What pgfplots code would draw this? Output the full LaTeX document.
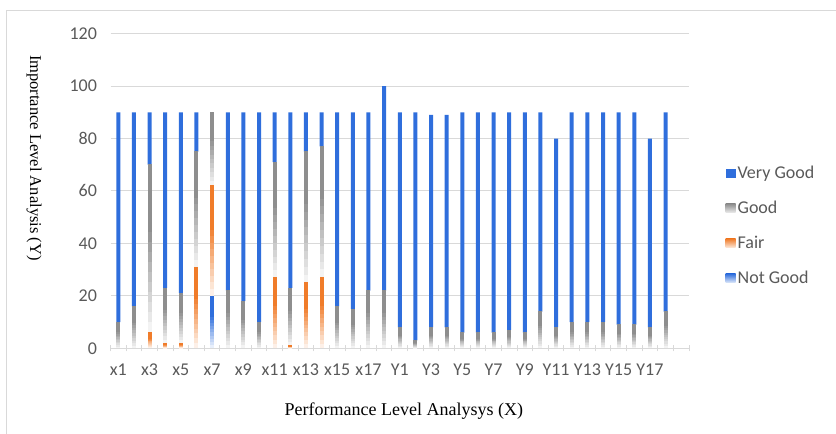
\documentclass[border=0pt]{standalone}
\usepackage{pgfplots}
\usepackage{pgfplotstable}
\pgfplotsset{compat=1.18}
\usepackage{fontspec}
\setmainfont{Carlito}
\newfontfamily\timesfont{Liberation Serif}

\definecolor{vgood}{HTML}{2F6EDC}
\definecolor{good}{HTML}{8E8E8E}
\definecolor{fair}{HTML}{F07C2A}
\definecolor{ngood}{HTML}{2F6EDC}
\definecolor{txt}{HTML}{595959}
\definecolor{gridc}{HTML}{D9D9D9}

% idx: 0-17 = x1..x18, 18-35 = Y1..Y18
\pgfplotstableread{
idx ng fair good vg
0  0  0  10 80
1  0  0  16 74
2  0  6  64 20
3  0  2  21 67
4  0  2  19 69
5  0  31 44 15
6  20 42 28 0
7  0  0  22 68
8  0  0  18 72
9  0  0  10 80
10 0  27 44 19
11 0  1  22 67
12 0  25 50 15
13 0  27 50 13
14 0  0  16 74
15 0  0  15 75
16 0  0  22 68
17 0  0  22 78
18 0  0  8  82
19 0  0  3  87
20 0  0  8  81
21 0  0  8  81
22 0  0  6  84
23 0  0  6  84
24 0  0  6  84
25 0  0  7  83
26 0  0  6  84
27 0  0  14 76
28 0  0  8  72
29 0  0  10 80
30 0  0  10 80
31 0  0  10 80
32 0  0  9  81
33 0  0  9  81
34 0  0  8  72
35 0  0  14 76
}\data

% stacked segment with a fade to white at its foot, one per point
\pgfplotsset{
  seg/.style={draw=none, fill=none, scatter, mark=*, mark size=0pt,
    scatter/@pre marker code/.code={\begin{scope}
      \pgfmathsetlengthmacro\hh{2.6225*\h}%
      \ifdim\hh>0.1pt
        \fill[#1] (-2pt,0.3pt) rectangle (2pt,{-0.4*\hh});
        \foreach \k in {0,...,9}{
          \pgfmathsetmacro\pc{92-9*\k}
          \fill[#1!\pc] (-2pt,{-(0.4+0.06*\k)*\hh+0.2pt}) rectangle (2pt,{-(0.4+0.06*(\k+1))*\hh});
        }
      \fi},
    scatter/@post marker code/.code={\end{scope}},
    legend image code/.code={\shade[top color=#1, bottom color=#1!15]
      (0pt,-4.5pt) rectangle (10pt,4.5pt);}},
}

\begin{document}
\begin{tikzpicture}
\path[use as bounding box] (0pt,0pt) rectangle (836pt,-434pt);
\draw[gridc, line width=1pt] (6.5pt,-434pt) -- (6.5pt,-10.5pt) -- (836pt,-10.5pt);
\begin{axis}[
  at={(110.5pt,-348.3pt)}, anchor=south west,
  scale only axis, width=578.5pt, height=314.7pt,
  ybar stacked, bar width=4pt,
  xmin=-0.5, xmax=36.5, ymin=0, ymax=120,
  ytick={0,20,...,120},
  xtick={0,2,...,34},
  xticklabels={x1,x3,x5,x7,x9,x11,x13,x15,x17,Y1,Y3,Y5,Y7,Y9,Y11,Y13,Y15,Y17},
  minor xtick={-0.5,0.5,...,36.5},
  major tick length=0pt, minor tick length=6pt, tick align=outside,
  minor tick style={gridc, line width=1pt},
  axis lines=left, axis line style={-},
  y axis line style={draw=none},
  x axis line style={gridc, line width=1pt},
  ymajorgrids, major grid style={gridc, line width=1pt},
  /pgf/number format/assume math mode=true,
  ticklabel style={font=\fontsize{18}{20}\selectfont, text=txt},
  yticklabel style={xshift=-10pt},
  xticklabel style={yshift=-12pt},
  every axis x label/.style={at={(axis description cs:0.507,-0.2)}, anchor=center,
    font=\fontsize{18}{20}\timesfont},
  every axis y label/.style={at={(axis description cs:-0.132,0.605)}, anchor=center,
    rotate=-90, font=\fontsize{16.5}{20}\timesfont},
  xlabel={Performance Level Analysys (X)},
  ylabel={Importance Level Analysis (Y)},
  reverse legend,
  legend cell align=left,
  legend style={at={(axis description cs:1.063,0.585)}, anchor=north west,
    draw=none, fill=none, font=\fontsize{18}{20}\selectfont, text=txt,
    row sep=17pt, inner sep=0pt},
]
\addplot[seg=ngood, visualization depends on={\thisrow{ng} \as \h}]
  table[x=idx, y=ng] {\data};
\addplot[seg=fair, visualization depends on={\thisrow{fair} \as \h}]
  table[x=idx, y=fair] {\data};
\addplot[seg=good, visualization depends on={\thisrow{good} \as \h}]
  table[x=idx, y=good] {\data};
\addplot[draw=none, fill=vgood,
  legend image code/.code={\fill[vgood] (0pt,-4.5pt) rectangle (10pt,4.5pt);}]
  table[x=idx, y=vg] {\data};
\legend{Not Good, Fair, Good, Very Good}
\end{axis}
\end{tikzpicture}
\end{document}
